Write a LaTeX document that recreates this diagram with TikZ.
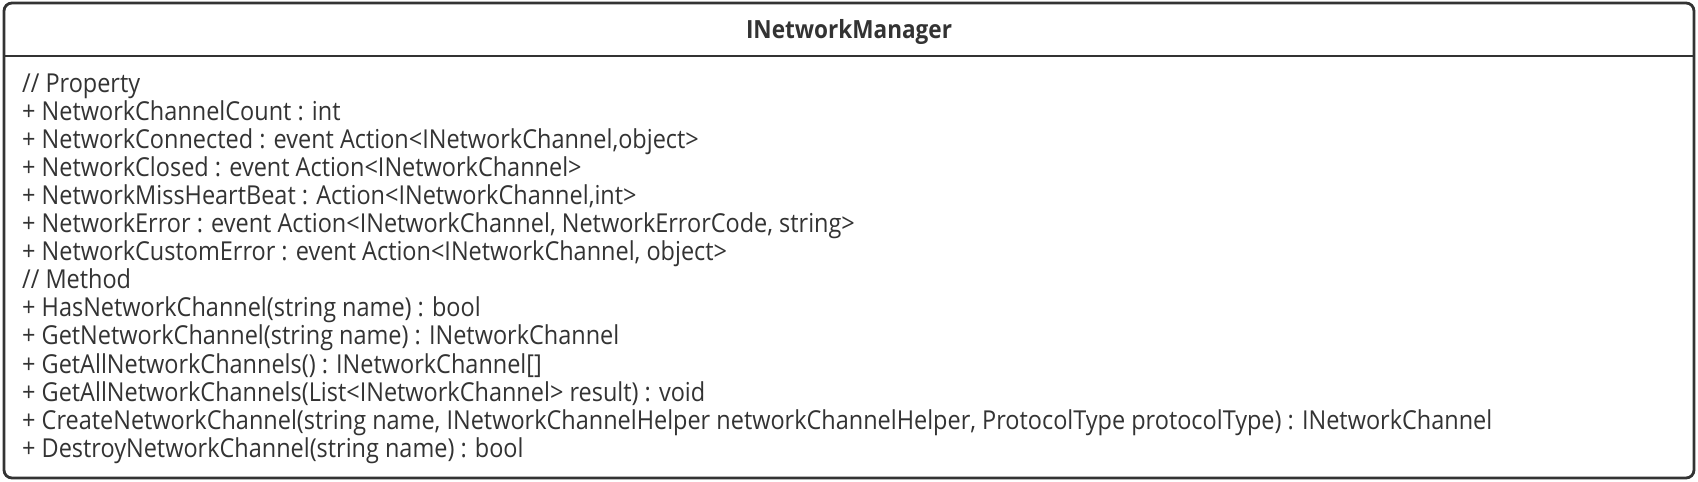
\documentclass[tikz,border=0pt]{standalone}
\usepackage{fontspec}
\setmainfont{Open Sans}
\newfontfamily\umlfont[FakeStretch=0.9]{Open Sans}
\definecolor{ink}{HTML}{333333}
\newlength\LWbody
\newlength\LWtitle
\newcommand\bodyfnt{\umlfont\fontsize{\bodysize pt}{\bodysize pt}\selectfont}
\newcommand\titlefnt{\umlfont\bfseries\fontsize{\titlesize pt}{\titlesize pt}\selectfont}
\begin{document}
\settowidth\LWbody{\umlfont\fontsize{20pt}{24pt}\selectfont + CreateNetworkChannel(string name, INetworkChannelHelper networkChannelHelper, ProtocolType protocolType) : INetworkChannel}%
\settowidth\LWtitle{\umlfont\bfseries\fontsize{20pt}{24pt}\selectfont INetworkManager}%
\pgfmathsetmacro\bodysize{1470/\LWbody*20}%
\pgfmathsetmacro\titlesize{206/\LWtitle*20}%
\begin{tikzpicture}[x=1pt,y=-1pt,
  frame/.style={draw=ink, line width=2.8pt},
  member/.style={anchor=base west, inner sep=0pt, text=ink, font=\bodyfnt},
  title/.style={anchor=base, inner sep=0pt, text=ink, font=\titlefnt}]
\useasboundingbox (0,0) rectangle (1698,482);
\fill[white] (0,0) rectangle (1698,482);
\draw[frame, rounded corners=8pt, fill=white] (4,3) rectangle (1694,478);
\draw[frame] (4,56) -- (1694,56);
\node[title] (name) at (849,38) {INetworkManager};
\foreach \t [count=\i] in {
  {// Property},
  {+ NetworkChannelCount : int},
  {+ NetworkConnected : event Action<INetworkChannel,object>},
  {+ NetworkClosed : event Action<INetworkChannel>},
  {+ NetworkMissHeartBeat : Action<INetworkChannel,int>},
  {+ NetworkError : event Action<INetworkChannel, NetworkErrorCode, string>},
  {+ NetworkCustomError : event Action<INetworkChannel, object>},
  {// Method},
  {+ HasNetworkChannel(string name) : bool},
  {+ GetNetworkChannel(string name) : INetworkChannel},
  {+ GetAllNetworkChannels() : INetworkChannel[]},
  {+ GetAllNetworkChannels(List<INetworkChannel> result) : void},
  {+ CreateNetworkChannel(string name, INetworkChannelHelper networkChannelHelper, ProtocolType protocolType) : INetworkChannel},
  {+ DestroyNetworkChannel(string name) : bool}}
  \node[member] (m\i) at (22, {92+(\i-1)*28.1}) {\t};
\end{tikzpicture}
\end{document}
